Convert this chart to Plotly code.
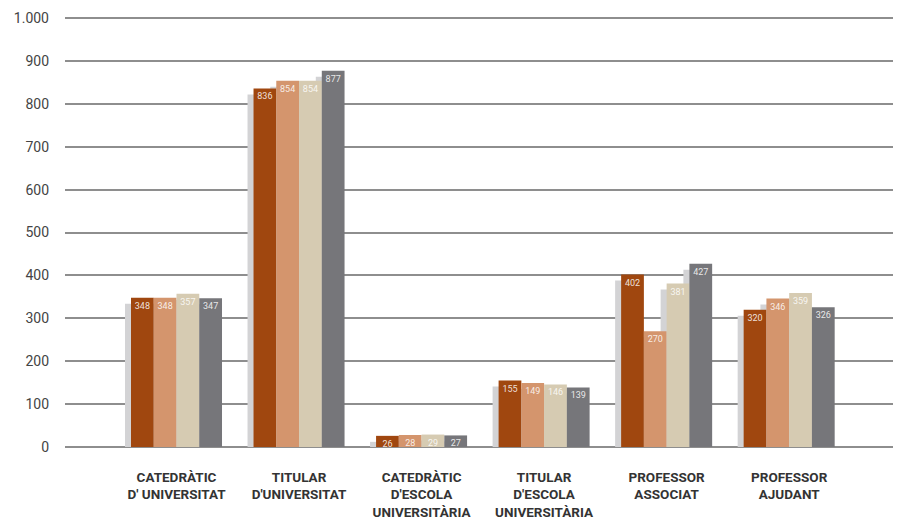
import plotly.graph_objects as go

categories = ["CATEDRÀTIC<br>D' UNIVERSITAT", "TITULAR<br>D'UNIVERSITAT",
              "CATEDRÀTIC<br>D'ESCOLA<br>UNIVERSITÀRIA", "TITULAR<br>D'ESCOLA<br>UNIVERSITÀRIA",
              "PROFESSOR<br>ASSOCIAT", "PROFESSOR<br>AJUDANT"]
series_a = [348, 836, 26, 155, 402, 320]
series_b = [348, 854, 28, 149, 270, 346]
series_c = [357, 854, 29, 146, 381, 359]
series_d = [347, 877, 27, 139, 427, 326]
y_tickvals = [0, 100, 200, 300, 400, 500, 600, 700, 800, 900, 1000]
y_ticktext = ["0", "100", "200", "300", "400", "500", "600", "700", "800", "900", "1.000"]

series = [series_a, series_b, series_c, series_d]
colors = ["#a0470f", "#d4956d", "#d6cbb2", "#76767a"]
shadow_color = "#d3d3d5"

xs = list(range(len(categories)))
bw = 0.1857
start = -2 * bw
dx = 0.049   # shadow shift left (axis units)
dy = 14      # shadow shift down (value units)

fig = go.Figure()
# shadows
for i, s in enumerate(series):
    fig.add_trace(go.Bar(x=xs, y=[v - dy for v in s], width=bw, offset=start + i * bw - dx,
                         marker=dict(color=shadow_color, line=dict(width=0)),
                         hoverinfo="skip", showlegend=False))
# main bars
for i, s in enumerate(series):
    fig.add_trace(go.Bar(x=xs, y=s, width=bw, offset=start + i * bw,
                         marker=dict(color=colors[i], line=dict(width=0)),
                         text=[str(v) for v in s], textposition="inside",
                         insidetextanchor="end", textangle=0,
                         textfont=dict(size=9, color="rgba(255,255,255,0.85)", family="Roboto"),
                         showlegend=False))

fig.update_layout(
    barmode="overlay",
    width=893, height=515,
    margin=dict(l=57, r=4, t=9, b=76),
    plot_bgcolor="white", paper_bgcolor="white",
    uniformtext=dict(minsize=8, mode="show"),
    xaxis=dict(range=[-0.91, 5.88], tickmode="array", tickvals=xs, ticktext=categories,
               showgrid=False, zeroline=False, showline=False, ticks="",
               ticklabelstandoff=20, automargin=False,
               tickfont=dict(family="Roboto", size=13.5, color="#333333", weight="bold")),
    yaxis=dict(range=[0, 1002.5], tickmode="array", tickvals=y_tickvals, ticktext=y_ticktext,
               showgrid=True, gridcolor="#8e8e8e", gridwidth=1.5,
               zeroline=True, zerolinecolor="#8e8e8e", zerolinewidth=1.5,
               showline=False, ticks="", ticklabelstandoff=15, automargin=False,
               tickfont=dict(family="Roboto", size=14, color="#444444")),
)

fig.write_html("out.html")
